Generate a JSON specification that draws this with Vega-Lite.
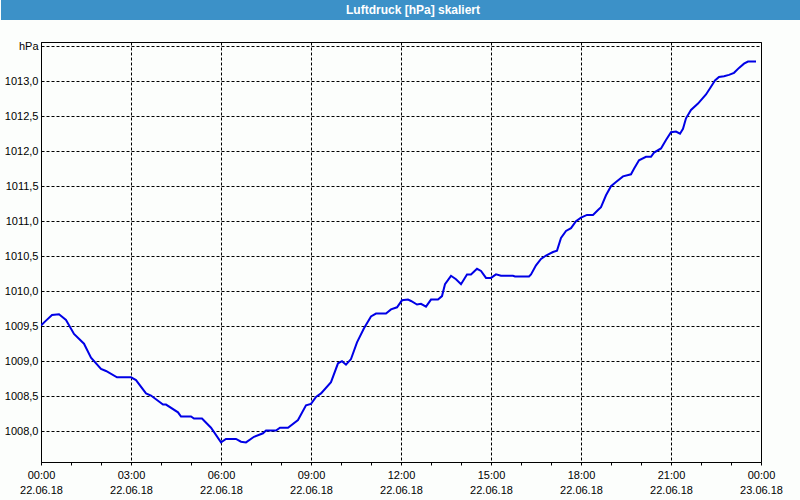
{
  "$schema": "https://vega.github.io/schema/vega-lite/v6.json",
  "background": "#fcfefc",
  "padding": 0,
  "spacing": 19,
  "config": {"font": "Liberation Sans"},
  "vconcat": [
    {
      "width": 760,
      "height": 20,
      "view": {"fill": "#3c91c8", "stroke": null},
      "data": {"values": [{"title": "Luftdruck [hPa] skaliert"}]},
      "mark": {"type": "text", "color": "#ffffff", "fontWeight": "bold", "fontSize": 12, "align": "center", "baseline": "middle", "dx": -8},
      "encoding": {
        "text": {"field": "title", "type": "nominal"},
        "y": {
          "datum": 0,
          "type": "quantitative",
          "scale": {"domain": [-1, 1]},
          "axis": {"title": null, "labels": false, "ticks": false, "grid": false, "domainColor": "#3c91c8", "domainWidth": 80, "domainCap": "butt", "translate": 0, "minExtent": 40, "maxExtent": 40}
        }
      }
    },
    {
      "width": 720,
      "height": 420,
      "view": {"stroke": "#000000", "strokeWidth": 1, "fill": null},
      "data": {"values": [
        {"t": "2018-06-22T00:00", "p": 1009.51},
        {"t": "2018-06-22T00:10", "p": 1009.58},
        {"t": "2018-06-22T00:22", "p": 1009.66},
        {"t": "2018-06-22T00:36", "p": 1009.67},
        {"t": "2018-06-22T00:50", "p": 1009.59},
        {"t": "2018-06-22T01:06", "p": 1009.39},
        {"t": "2018-06-22T01:26", "p": 1009.25},
        {"t": "2018-06-22T01:40", "p": 1009.05},
        {"t": "2018-06-22T02:00", "p": 1008.89},
        {"t": "2018-06-22T02:10", "p": 1008.86},
        {"t": "2018-06-22T02:32", "p": 1008.77},
        {"t": "2018-06-22T03:00", "p": 1008.77},
        {"t": "2018-06-22T03:10", "p": 1008.73},
        {"t": "2018-06-22T03:30", "p": 1008.54},
        {"t": "2018-06-22T03:40", "p": 1008.51},
        {"t": "2018-06-22T04:04", "p": 1008.38},
        {"t": "2018-06-22T04:10", "p": 1008.38},
        {"t": "2018-06-22T04:34", "p": 1008.27},
        {"t": "2018-06-22T04:40", "p": 1008.21},
        {"t": "2018-06-22T05:00", "p": 1008.21},
        {"t": "2018-06-22T05:06", "p": 1008.18},
        {"t": "2018-06-22T05:22", "p": 1008.18},
        {"t": "2018-06-22T05:40", "p": 1008.05},
        {"t": "2018-06-22T06:00", "p": 1007.84},
        {"t": "2018-06-22T06:10", "p": 1007.89},
        {"t": "2018-06-22T06:30", "p": 1007.89},
        {"t": "2018-06-22T06:40", "p": 1007.85},
        {"t": "2018-06-22T06:50", "p": 1007.84},
        {"t": "2018-06-22T07:06", "p": 1007.92},
        {"t": "2018-06-22T07:24", "p": 1007.97},
        {"t": "2018-06-22T07:30", "p": 1008.01},
        {"t": "2018-06-22T07:50", "p": 1008.01},
        {"t": "2018-06-22T07:58", "p": 1008.05},
        {"t": "2018-06-22T08:14", "p": 1008.05},
        {"t": "2018-06-22T08:34", "p": 1008.16},
        {"t": "2018-06-22T08:50", "p": 1008.37},
        {"t": "2018-06-22T09:00", "p": 1008.39},
        {"t": "2018-06-22T09:10", "p": 1008.49},
        {"t": "2018-06-22T09:20", "p": 1008.54},
        {"t": "2018-06-22T09:40", "p": 1008.70},
        {"t": "2018-06-22T09:54", "p": 1008.97},
        {"t": "2018-06-22T10:02", "p": 1009.00},
        {"t": "2018-06-22T10:10", "p": 1008.95},
        {"t": "2018-06-22T10:20", "p": 1009.03},
        {"t": "2018-06-22T10:32", "p": 1009.27},
        {"t": "2018-06-22T10:46", "p": 1009.47},
        {"t": "2018-06-22T11:00", "p": 1009.64},
        {"t": "2018-06-22T11:10", "p": 1009.68},
        {"t": "2018-06-22T11:30", "p": 1009.68},
        {"t": "2018-06-22T11:40", "p": 1009.74},
        {"t": "2018-06-22T11:52", "p": 1009.77},
        {"t": "2018-06-22T12:02", "p": 1009.87},
        {"t": "2018-06-22T12:14", "p": 1009.88},
        {"t": "2018-06-22T12:20", "p": 1009.86},
        {"t": "2018-06-22T12:32", "p": 1009.81},
        {"t": "2018-06-22T12:40", "p": 1009.82},
        {"t": "2018-06-22T12:50", "p": 1009.78},
        {"t": "2018-06-22T13:00", "p": 1009.88},
        {"t": "2018-06-22T13:14", "p": 1009.88},
        {"t": "2018-06-22T13:22", "p": 1009.93},
        {"t": "2018-06-22T13:28", "p": 1010.10},
        {"t": "2018-06-22T13:40", "p": 1010.22},
        {"t": "2018-06-22T13:50", "p": 1010.17},
        {"t": "2018-06-22T14:00", "p": 1010.10},
        {"t": "2018-06-22T14:12", "p": 1010.24},
        {"t": "2018-06-22T14:20", "p": 1010.24},
        {"t": "2018-06-22T14:32", "p": 1010.32},
        {"t": "2018-06-22T14:40", "p": 1010.29},
        {"t": "2018-06-22T14:50", "p": 1010.19},
        {"t": "2018-06-22T15:00", "p": 1010.19},
        {"t": "2018-06-22T15:10", "p": 1010.24},
        {"t": "2018-06-22T15:20", "p": 1010.22},
        {"t": "2018-06-22T15:44", "p": 1010.22},
        {"t": "2018-06-22T15:48", "p": 1010.21},
        {"t": "2018-06-22T16:16", "p": 1010.21},
        {"t": "2018-06-22T16:20", "p": 1010.24},
        {"t": "2018-06-22T16:30", "p": 1010.37},
        {"t": "2018-06-22T16:40", "p": 1010.46},
        {"t": "2018-06-22T16:50", "p": 1010.51},
        {"t": "2018-06-22T17:04", "p": 1010.56},
        {"t": "2018-06-22T17:12", "p": 1010.58},
        {"t": "2018-06-22T17:20", "p": 1010.76},
        {"t": "2018-06-22T17:30", "p": 1010.86},
        {"t": "2018-06-22T17:40", "p": 1010.90},
        {"t": "2018-06-22T17:50", "p": 1011.00},
        {"t": "2018-06-22T18:00", "p": 1011.05},
        {"t": "2018-06-22T18:12", "p": 1011.09},
        {"t": "2018-06-22T18:24", "p": 1011.09},
        {"t": "2018-06-22T18:34", "p": 1011.16},
        {"t": "2018-06-22T18:40", "p": 1011.20},
        {"t": "2018-06-22T18:50", "p": 1011.37},
        {"t": "2018-06-22T19:00", "p": 1011.50},
        {"t": "2018-06-22T19:10", "p": 1011.56},
        {"t": "2018-06-22T19:24", "p": 1011.64},
        {"t": "2018-06-22T19:40", "p": 1011.67},
        {"t": "2018-06-22T19:46", "p": 1011.75},
        {"t": "2018-06-22T19:56", "p": 1011.87},
        {"t": "2018-06-22T20:10", "p": 1011.92},
        {"t": "2018-06-22T20:20", "p": 1011.92},
        {"t": "2018-06-22T20:26", "p": 1011.98},
        {"t": "2018-06-22T20:40", "p": 1012.04},
        {"t": "2018-06-22T20:50", "p": 1012.16},
        {"t": "2018-06-22T21:00", "p": 1012.27},
        {"t": "2018-06-22T21:10", "p": 1012.28},
        {"t": "2018-06-22T21:18", "p": 1012.25},
        {"t": "2018-06-22T21:24", "p": 1012.32},
        {"t": "2018-06-22T21:30", "p": 1012.47},
        {"t": "2018-06-22T21:40", "p": 1012.59},
        {"t": "2018-06-22T21:54", "p": 1012.68},
        {"t": "2018-06-22T22:10", "p": 1012.81},
        {"t": "2018-06-22T22:20", "p": 1012.92},
        {"t": "2018-06-22T22:28", "p": 1013.01},
        {"t": "2018-06-22T22:36", "p": 1013.06},
        {"t": "2018-06-22T22:46", "p": 1013.07},
        {"t": "2018-06-22T22:56", "p": 1013.09},
        {"t": "2018-06-22T23:06", "p": 1013.12},
        {"t": "2018-06-22T23:16", "p": 1013.19},
        {"t": "2018-06-22T23:26", "p": 1013.25},
        {"t": "2018-06-22T23:34", "p": 1013.28},
        {"t": "2018-06-22T23:50", "p": 1013.28}
      ]},
      "mark": {"type": "line", "color": "#0000e6", "strokeWidth": 2, "clip": true},
      "encoding": {
        "x": {
          "field": "t",
          "type": "temporal",
          "scale": {
            "domain": [
              {"year": 2018, "month": 6, "date": 22, "hours": 0},
              {"year": 2018, "month": 6, "date": 23, "hours": 0}
            ],
            "nice": false
          },
          "axis": {
            "title": null,
            "values": [
              {"year": 2018, "month": 6, "date": 22, "hours": 0},
              {"year": 2018, "month": 6, "date": 22, "hours": 1},
              {"year": 2018, "month": 6, "date": 22, "hours": 2},
              {"year": 2018, "month": 6, "date": 22, "hours": 3},
              {"year": 2018, "month": 6, "date": 22, "hours": 4},
              {"year": 2018, "month": 6, "date": 22, "hours": 5},
              {"year": 2018, "month": 6, "date": 22, "hours": 6},
              {"year": 2018, "month": 6, "date": 22, "hours": 7},
              {"year": 2018, "month": 6, "date": 22, "hours": 8},
              {"year": 2018, "month": 6, "date": 22, "hours": 9},
              {"year": 2018, "month": 6, "date": 22, "hours": 10},
              {"year": 2018, "month": 6, "date": 22, "hours": 11},
              {"year": 2018, "month": 6, "date": 22, "hours": 12},
              {"year": 2018, "month": 6, "date": 22, "hours": 13},
              {"year": 2018, "month": 6, "date": 22, "hours": 14},
              {"year": 2018, "month": 6, "date": 22, "hours": 15},
              {"year": 2018, "month": 6, "date": 22, "hours": 16},
              {"year": 2018, "month": 6, "date": 22, "hours": 17},
              {"year": 2018, "month": 6, "date": 22, "hours": 18},
              {"year": 2018, "month": 6, "date": 22, "hours": 19},
              {"year": 2018, "month": 6, "date": 22, "hours": 20},
              {"year": 2018, "month": 6, "date": 22, "hours": 21},
              {"year": 2018, "month": 6, "date": 22, "hours": 22},
              {"year": 2018, "month": 6, "date": 22, "hours": 23},
              {"year": 2018, "month": 6, "date": 23, "hours": 0}
            ],
            "grid": true,
            "gridColor": "#000000",
            "gridDash": [3, 2],
            "gridOpacity": {"condition": {"test": "hours(datum.value) % 3 === 0", "value": 1}, "value": 0},
            "domainColor": "#000000",
            "tickColor": "#000000",
            "tickSize": 3,
            "labelExpr": "hours(datum.value) % 3 === 0 ? [timeFormat(datum.value, '%H:%M'), timeFormat(datum.value, '%d.%m.%y')] : ''",
            "labelPadding": 4,
            "labelFontSize": 11,
            "labelColor": "#000000",
            "labelLineHeight": 15,
            "labelOverlap": false,
            "labelFlush": false,
            "labelBound": false,
            "minExtent": 40,
            "maxExtent": 40
          }
        },
        "y": {
          "field": "p",
          "type": "quantitative",
          "scale": {"domain": [1007.56, 1013.56], "nice": false, "zero": false},
          "axis": {
            "title": null,
            "values": [1008, 1008.5, 1009, 1009.5, 1010, 1010.5, 1011, 1011.5, 1012, 1012.5, 1013, 1013.5],
            "grid": true,
            "gridColor": "#000000",
            "gridDash": [3, 2],
            "ticks": false,
            "domainColor": "#000000",
            "labelExpr": "datum.value > 1013.4 ? 'hPa' : replace(format(datum.value, '.1f'), '.', ',')",
            "labelPadding": 3,
            "labelFontSize": 11,
            "labelColor": "#000000",
            "labelOverlap": false,
            "minExtent": 40,
            "maxExtent": 40
          }
        }
      }
    }
  ]
}
